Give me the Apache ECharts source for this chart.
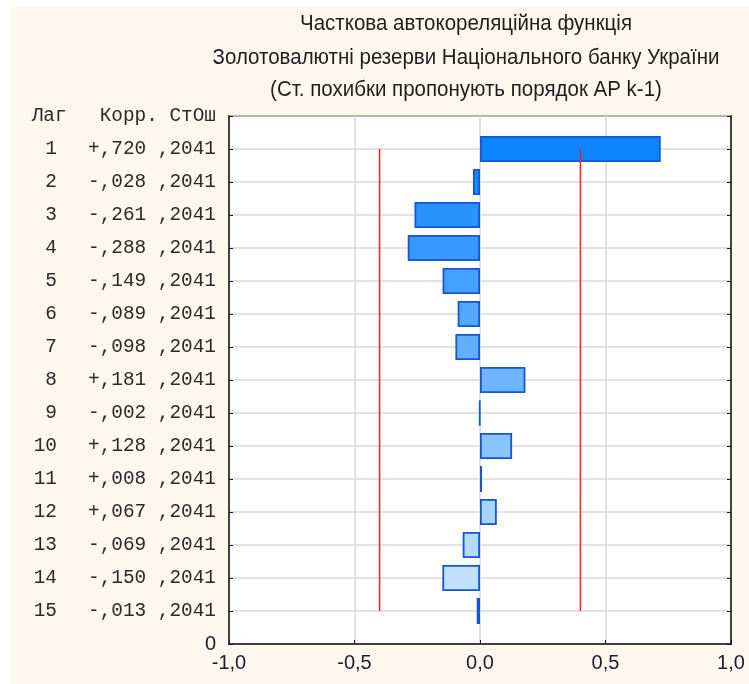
<!DOCTYPE html>
<html>
<head>
<meta charset="utf-8">
<script src="https://cdn.jsdelivr.net/npm/echarts@6/dist/echarts.min.js"></script>
<style>
  html, body { margin: 0; padding: 0; background: #ffffff; }
  #chart { position: absolute; left: 11px; top: 7px; width: 738px; height: 677px; }
</style>
</head>
<body>
<div id="chart"></div>
<script>
// Partial autocorrelation function, lags 1..15
const lags = [1, 2, 3, 4, 5, 6, 7, 8, 9, 10, 11, 12, 13, 14, 15];
const pacf = [0.720, -0.028, -0.261, -0.288, -0.149, -0.089, -0.098, 0.181,
              -0.002, 0.128, 0.008, 0.067, -0.069, -0.150, -0.013];
const stdErr = [0.2041, 0.2041, 0.2041, 0.2041, 0.2041, 0.2041, 0.2041, 0.2041,
                0.2041, 0.2041, 0.2041, 0.2041, 0.2041, 0.2041, 0.2041];
const confLimit = 0.40;
const titleLines = [
  'Часткова автокореляційна функція',
  'Золотовалютні резерви Національного банку України',
  '(Ст. похибки пропонують порядок АР k-1)'
];
const headerLag = 'Лаг';
const headerCols = 'Корр. СтОш';

// category slots top to bottom: header row, one per lag, then the zero row
const HEADER = 'hdr', ZERO = '0';
const yCats = [HEADER].concat(lags.map(String)).concat([ZERO]);

// numbers in the table are printed without the leading zero and with a comma
function fmtSigned(v) {
  const s = Math.abs(v).toFixed(3).replace(/^0/, '').replace('.', ',');
  return (v < 0 ? '-' : '+') + s;
}
function fmtErr(v) {
  return v.toFixed(4).replace(/^0/, '').replace('.', ',');
}

// bar fill fades from saturated to pale blue with the lag
function barFill(i, n) {
  const a = [12, 132, 255], b = [208, 232, 255];
  const t = n > 1 ? i / (n - 1) : 0;
  const c = a.map((v, k) => Math.round(v + (b[k] - v) * t));
  return 'rgb(' + c.join(',') + ')';
}

const barData = [null].concat(pacf.map((v, i) => ({
  value: v,
  itemStyle: { color: barFill(i, pacf.length) }
}))).concat([null]);

const mono = "'Liberation Mono', 'Courier New', monospace";
const sans = "'Liberation Sans', Arial, sans-serif";
const textColor = '#1c1c30';
const tableColor = '#2a2a2a';

const chart = echarts.init(document.getElementById('chart'));
chart.setOption({
  backgroundColor: '#fdf8ee',
  animation: false,
  // three-line heading, slightly condensed look
  graphic: titleLines.map((t, i) => ({
    type: 'text',
    x: 455, y: [17, 51, 83][i],
    scaleY: 1.12,
    style: { text: t, fill: '#1e1e1e', font: '20.5px ' + sans,
             align: 'center', verticalAlign: 'middle' }
  })),
  grid: {
    left: 218, right: 18, top: 109, bottom: 40,
    show: true, backgroundColor: '#ffffff',
    borderColor: '#1a1a1a', borderWidth: 1.5
  },
  xAxis: {
    type: 'value', min: -1, max: 1, interval: 0.5,
    axisLine: { show: true, onZero: false, lineStyle: { color: '#1a1a1a', width: 1.5 } },
    axisTick: { show: true, inside: true, length: 4, lineStyle: { color: '#1a1a1a' } },
    splitLine: { show: true, lineStyle: { color: '#d9d9d9', width: 1.5 } },
    axisLabel: {
      margin: 9, color: textColor, fontFamily: sans, fontSize: 20,
      formatter: v => v.toFixed(1).replace('.', ',')
    }
  },
  yAxis: [{
    type: 'category', data: yCats, inverse: true, boundaryGap: false,
    axisLine: { show: true, onZero: false, lineStyle: { color: '#1a1a1a', width: 1.5 } },
    axisTick: { show: true, inside: true, length: 4, lineStyle: { color: '#1a1a1a' } },
    splitLine: { show: true, lineStyle: { color: '#d9d9d9', width: 1.5 } },
    axisLabel: {
      margin: 13, interval: 0,
      formatter: function (v) {
        if (v === HEADER) return '{hdr|' + headerLag + '}{val|' + headerCols + '}';
        if (v === ZERO) return '{zero|0}';
        const i = lags.indexOf(Number(v));
        return '{lag|' + lags[i] + '}{gap| }{val|' + fmtSigned(pacf[i]) + ' ' + fmtErr(stdErr[i]) + '}';
      },
      rich: {
        hdr: { width: 68, align: 'left', padding: [0, 0, 0, 19],
               fontFamily: mono, fontSize: 19.4, color: tableColor },
        lag: { width: 40, align: 'right', fontFamily: mono, fontSize: 19.4, color: tableColor },
        gap: { width: 31, fontFamily: mono, fontSize: 19.4 },
        val: { fontFamily: mono, fontSize: 19.4, color: tableColor },
        zero: { fontFamily: sans, fontSize: 20, color: textColor }
      }
    }
  }, {
    type: 'category', data: yCats, inverse: true, boundaryGap: false,
    position: 'right',
    axisLine: { show: true, onZero: false, lineStyle: { color: '#1a1a1a', width: 1.5 } },
    axisTick: { show: true, inside: true, length: 4, lineStyle: { color: '#1a1a1a' } },
    axisLabel: { show: false },
    splitLine: { show: false }
  }],
  series: [{
    type: 'bar', yAxisIndex: 0, barWidth: 26, z: 3,
    data: barData,
    itemStyle: { borderColor: '#1656d4', borderWidth: 1.8 }
  }, {
    type: 'line', yAxisIndex: 0, z: 5, symbol: 'none', silent: true,
    lineStyle: { color: '#ff1e1e', width: 1.5 },
    data: [[-confLimit, String(lags[0])], [-confLimit, String(lags[lags.length - 1])]]
  }, {
    type: 'line', yAxisIndex: 0, z: 5, symbol: 'none', silent: true,
    lineStyle: { color: '#ff1e1e', width: 1.5 },
    data: [[confLimit, String(lags[0])], [confLimit, String(lags[lags.length - 1])]]
  }]
});
</script>
</body>
</html>
